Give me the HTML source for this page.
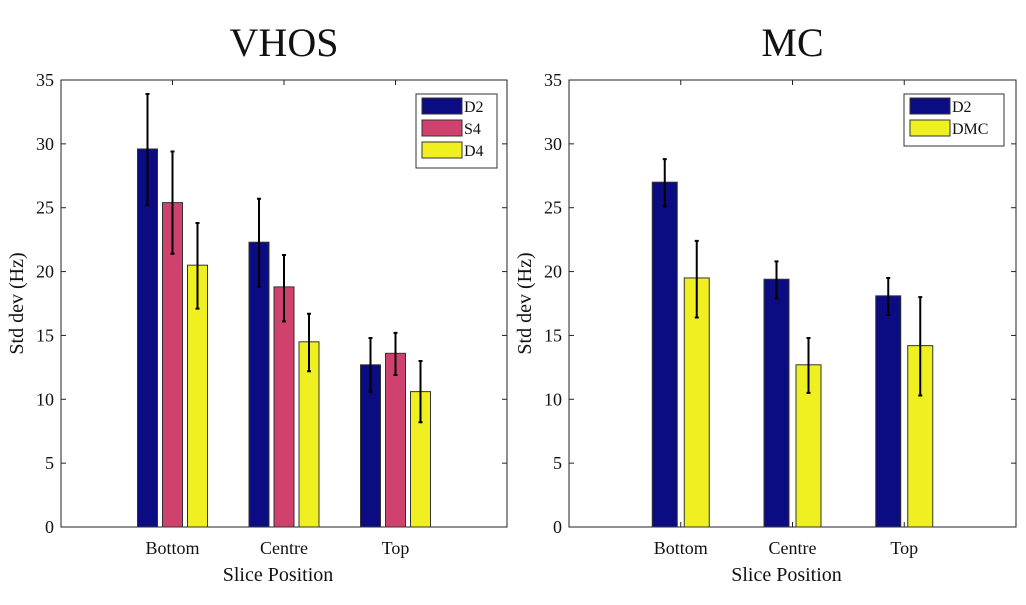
<!DOCTYPE html>
<html><head><meta charset="utf-8"><style>
body{margin:0;background:#fff;}
svg text{font-family:"Liberation Serif",serif;fill:#111;}
</style></head><body>
<svg id="chart" width="1026" height="600" xmlns="http://www.w3.org/2000/svg"></svg>
<script>
const categories = ["Bottom","Centre","Top"];
const yTicks = [0,5,10,15,20,25,30,35];
const leftSeriesNames = ["D2","S4","D4"];
const leftD2 = [29.6,22.3,12.7];
const leftD2Lo = [25.2,18.8,10.6];
const leftD2Hi = [33.9,25.7,14.8];
const leftS4 = [25.4,18.8,13.6];
const leftS4Lo = [21.4,16.1,11.9];
const leftS4Hi = [29.4,21.3,15.2];
const leftD4 = [20.5,14.5,10.6];
const leftD4Lo = [17.1,12.2,8.2];
const leftD4Hi = [23.8,16.7,13.0];
const rightSeriesNames = ["D2","DMC"];
const rightD2 = [27.0,19.4,18.1];
const rightD2Lo = [25.1,17.9,16.6];
const rightD2Hi = [28.8,20.8,19.5];
const rightDMC = [19.5,12.7,14.2];
const rightDMCLo = [16.4,10.5,10.3];
const rightDMCHi = [22.4,14.8,18.0];

const NS="http://www.w3.org/2000/svg";
const svg=document.getElementById('chart');
function mk(tag,attrs,parent){const e=document.createElementNS(NS,tag);for(const k in attrs)e.setAttribute(k,attrs[k]);(parent||svg).appendChild(e);return e;}
const colors={D2:"#0c0c82",S4:"#d0426e",D4:"#f0f020",DMC:"#f0f020"};

function panel(p){
  const g=mk('g',{});
  
  
  const x0=p.x0,x1=p.x1,yT=80,yB=527;
  const xs=v=>x0+(x1-x0)*v/4;
  const ys=v=>yB-(yB-yT)*v/35;
  const t=mk('text',{x:(x0+x1)/2,y:56,'text-anchor':'middle','font-size':40},g);t.textContent=p.title;
  
  
  const box=mk('rect',{x:x0,y:yT,width:x1-x0,height:yB-yT,fill:'#fff',stroke:'#222','stroke-width':1},g);
  
  
  yTicks.forEach(v=>{
    mk('line',{x1:x0,x2:x0+5,y1:ys(v),y2:ys(v),stroke:'#222'},g);
    mk('line',{x1:x1,x2:x1-5,y1:ys(v),y2:ys(v),stroke:'#222'},g);
    const l=mk('text',{x:x0-7,y:ys(v)+6,'text-anchor':'end','font-size':18},g);l.textContent=v;
    
    
  });
  categories.forEach((c,i)=>{
    const cx=xs(i+1);
    mk('line',{x1:cx,x2:cx,y1:yB,y2:yB-5,stroke:'#222'},g);
    mk('line',{x1:cx,x2:cx,y1:yT,y2:yT+5,stroke:'#222'},g);
    const l=mk('text',{x:cx,y:554,'text-anchor':'middle','font-size':18},g);l.textContent=c;
    
    
  });
  const xl=mk('text',{x:(x0+x1)/2-6,y:581,'text-anchor':'middle','font-size':20},g);xl.textContent='Slice Position';
  
  
  const yl=mk('text',{x:0,y:0,'text-anchor':'middle','font-size':20,transform:`translate(${x0-38},${(yT+yB)/2}) rotate(-90)`},g);yl.textContent='Std dev (Hz)';
  
  
  p.series.forEach((s,si)=>{
    categories.forEach((c,i)=>{
      const cx=xs(i+1)+p.offsets[si];
      const r=mk('rect',{x:cx-p.bw/2,y:ys(s.v[i]),width:p.bw,height:ys(0)-ys(s.v[i]),fill:colors[s.n],stroke:'#333','stroke-width':1},g);
      
      
      const e=mk('path',{d:`M${cx},${ys(s.lo[i])}V${ys(s.hi[i])}M${cx-2},${ys(s.lo[i])}H${cx+2}M${cx-2},${ys(s.hi[i])}H${cx+2}`,stroke:'#000','stroke-width':2,fill:'none'},g);
      
      
    });
  });
  const lg=mk('g',{},g);
  
  
  mk('rect',{x:p.lx,y:94,width:p.lw,height:8+p.series.length*22,fill:'#fff',stroke:'#333'},lg);
  p.series.forEach((s,si)=>{
    const y=98+si*22;
    const sw=mk('rect',{x:p.lx+6,y:y,width:40,height:16,fill:colors[s.n],stroke:'#333'},lg);
    
    
    const lt=mk('text',{x:p.lx+48,y:y+14,'font-size':16},lg);lt.textContent=s.n;
    
    
  });
}
panel({name:'vhos-panel',title:'VHOS',x0:61,x1:507,bw:20,offsets:[-25,0,25],lx:416,lw:81,
  series:[{n:'D2',v:leftD2,lo:leftD2Lo,hi:leftD2Hi},{n:'S4',v:leftS4,lo:leftS4Lo,hi:leftS4Hi},{n:'D4',v:leftD4,lo:leftD4Lo,hi:leftD4Hi}]});
panel({name:'mc-panel',title:'MC',x0:569,x1:1016,bw:25,offsets:[-16,16],lx:904,lw:100,
  series:[{n:'D2',v:rightD2,lo:rightD2Lo,hi:rightD2Hi},{n:'DMC',v:rightDMC,lo:rightDMCLo,hi:rightDMCHi}]});
</script>
</body></html>
